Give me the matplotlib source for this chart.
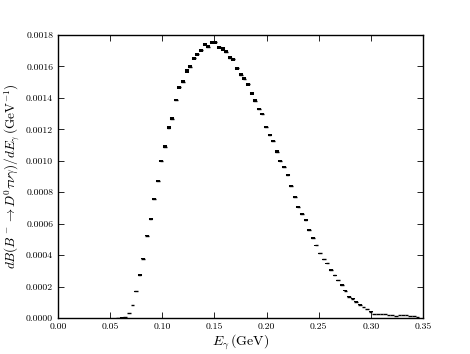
import matplotlib
matplotlib.use("Agg")
import matplotlib.pyplot as plt
import numpy as np

plt.rcParams['font.family'] = 'serif'
plt.rcParams['font.serif'] = ['cmr10']
plt.rcParams['mathtext.fontset'] = 'cm'
plt.rcParams['axes.formatter.use_mathtext'] = True

# histogram bins (GeV)
bin_width = 0.00346
first_bin = 17
x_lo = 0.0022

# dB/dE per bin, units 1e-6 GeV^-1, starting at bin 16
dBdE = [1, 3, 6, 30, 83, 170, 273, 377, 524, 628, 757, 871,
        999, 1090, 1210, 1268, 1387, 1467, 1503, 1571, 1598, 1652, 1677, 1702,
        1740, 1726, 1754, 1754, 1722, 1711, 1694, 1656, 1646, 1588, 1546, 1522,
        1488, 1429, 1382, 1329, 1298, 1215, 1164, 1126, 1058, 1000, 960, 908,
        842, 770, 706, 659, 621, 562, 509, 462, 411, 373, 348, 305,
        272, 240, 210, 172, 134, 123, 104, 85, 70, 57, 40, 25,
        24, 24, 24, 19, 19, 15, 19, 21, 17, 15, 15, 8]
# statistical errors, same units
dBdE_err = [0.2, 0.4, 0.6, 1.3, 2.2, 3.2, 4.0, 4.7, 5.5, 6.1, 6.7, 7.2,
            7.7, 8.0, 8.4, 8.6, 9.0, 9.3, 9.4, 9.6, 9.7, 9.9, 9.9, 10.0,
            10.1, 10.1, 10.2, 10.2, 10.1, 10.0, 10.0, 9.9, 9.8, 9.7, 9.5, 9.5,
            9.4, 9.2, 9.0, 8.8, 8.7, 8.5, 8.3, 8.1, 7.9, 7.7, 7.5, 7.3,
            7.0, 6.7, 6.4, 6.2, 6.0, 5.7, 5.5, 5.2, 4.9, 4.7, 4.5, 4.2,
            4.0, 3.8, 3.5, 3.2, 2.8, 2.7, 2.5, 2.2, 2.0, 1.8, 1.5, 1.2,
            1.2, 1.2, 1.2, 1.1, 1.1, 0.9, 1.1, 1.1, 1.0, 0.9, 0.9, 0.7]

y = np.array(dBdE) * 1e-6
yerr = np.array(dBdE_err) * 1e-6
idx = np.arange(len(y)) + first_bin - 1
x = x_lo + idx * bin_width

fig = plt.figure(figsize=(4.70, 3.54), dpi=100)
ax = fig.add_axes([58 / 470, 36 / 354, 365 / 470, 283 / 354])

ax.errorbar(x, y, xerr=bin_width / 2, fmt='none', ecolor='k', elinewidth=1.0)
ax.errorbar(x, y, yerr=yerr, fmt='none', ecolor='k', elinewidth=2.9)

ax.set_xlim(0, 0.35)
ax.set_ylim(0, 0.0018)
ax.set_xticks(np.arange(0, 0.351, 0.05))
ax.set_xticklabels(["%.2f" % v for v in np.arange(0, 0.351, 0.05)])
ax.set_yticks(np.arange(0, 0.00181, 0.0002))
ax.set_yticklabels(["%.4f" % v for v in np.arange(0, 0.00181, 0.0002)])
ax.tick_params(direction='in', top=True, right=True, labelsize=7, length=4, width=0.6)
for s in ax.spines.values():
    s.set_linewidth(1.0)

ax.set_xlabel(r'$E_\gamma\,(\mathrm{GeV})$', fontsize=10, labelpad=1)
ax.set_ylabel(r'$dB(B^-\to D^0\tau\nu\gamma)/dE_\gamma\,(\mathrm{GeV}^{-1})$', fontsize=9.5, labelpad=3)

fig.savefig("out.png", dpi=100)
